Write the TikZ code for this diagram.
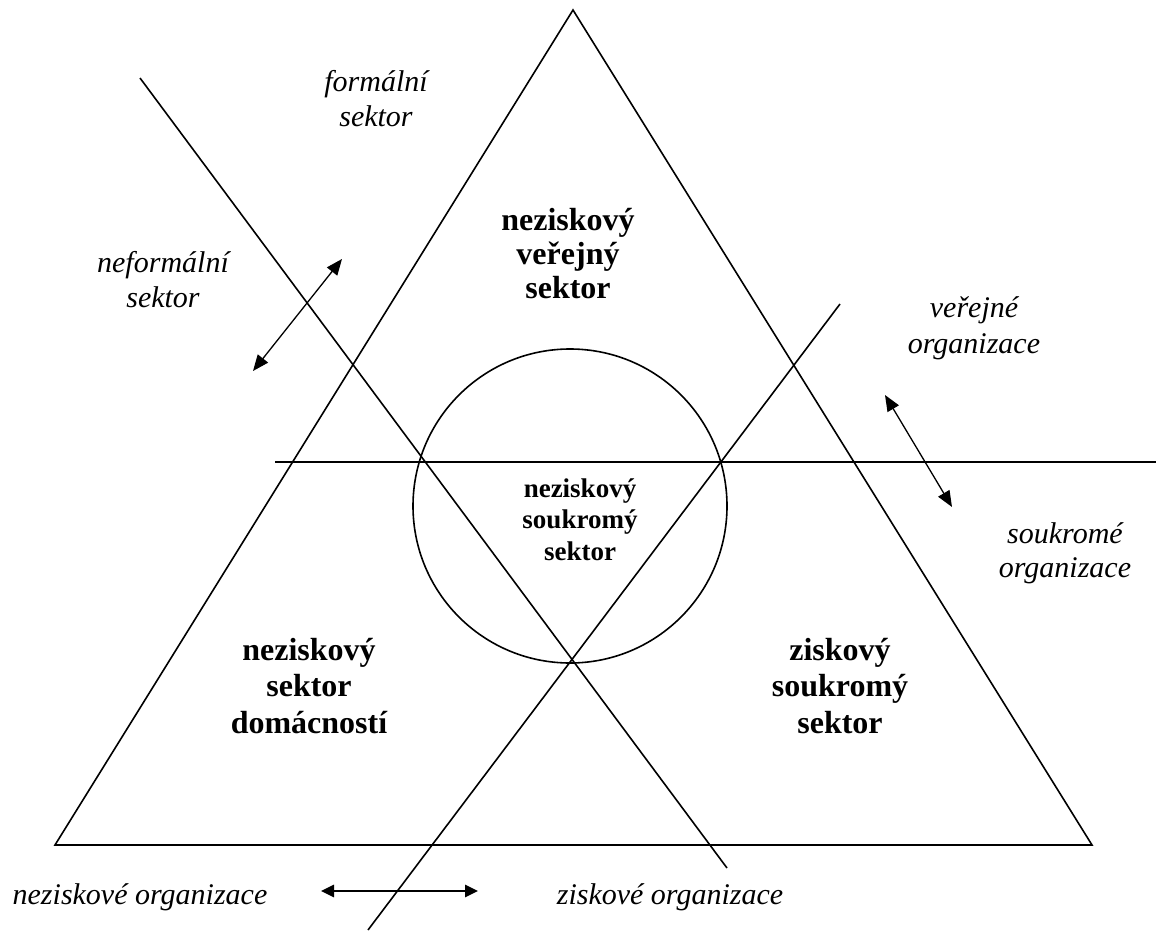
\documentclass[tikz,border=0pt]{standalone}
\usepackage{fontspec}
\setmainfont{Liberation Serif}
\usetikzlibrary{arrows.meta}
\newcommand{\labelstack}[1]{\begin{tabular}[t]{@{}c@{}}#1\end{tabular}}
\begin{document}
\begin{tikzpicture}[x=1pt,y=-1pt,
  frame/.style={line width=1.6pt,line join=miter},
  thinarrow/.style={line width=1.3pt,{Triangle[length=16pt,width=13pt]}-{Triangle[length=16pt,width=13pt]}},
  thickarrow/.style={line width=2.6pt,{Triangle[length=13pt,width=12pt]}-{Triangle[length=13pt,width=12pt]}},
  itlabel/.style={font=\fontsize{30}{35}\selectfont\itshape,inner sep=0pt,anchor=base},
  bflabel/.style={font=\fontsize{32}{36.5}\selectfont\bfseries,inner sep=0pt,anchor=base},
]
\useasboundingbox (0,0) rectangle (1156,931);
% geometry
\coordinate (apex) at (573,10);
\coordinate (bl) at (55,845);
\coordinate (br) at (1092,845);
\coordinate (cc) at (570,506);
\coordinate (l1s) at (140,78);
\coordinate (l1e) at (727,868);
\coordinate (l2s) at (840,304);
\coordinate (l2e) at (368,930);
\coordinate (hs) at (275,462);
\coordinate (he) at (1156,462);
\coordinate (a1s) at (342,259);
\coordinate (a1e) at (253,371);
\coordinate (a2s) at (885,395);
\coordinate (a2e) at (952,507);
\coordinate (a3s) at (321,891);
\coordinate (a3e) at (478,891);

\draw[frame] (apex) -- (bl) -- (br) -- cycle;
\draw[frame] (cc) circle[radius=157];
\draw[frame] (l1s) -- (l1e);
\draw[frame] (l2s) -- (l2e);
\draw[frame] (hs) -- (he);

\draw[thinarrow] (a1s) -- (a1e);
\draw[thinarrow] (a2s) -- (a2e);
\draw[thickarrow] (a3s) -- (a3e);

% italic labels
\node[itlabel] (formal) at (376,92) {\labelstack{formální\\sektor}};
\node[itlabel] (informal) at (163,272) {\labelstack{neformální\\sektor}};
\node[itlabel,font=\fontsize{30}{36}\selectfont\itshape] (public) at (974,317) {\labelstack{veřejné\\organizace}};
\node[itlabel,font=\fontsize{30}{34.5}\selectfont\itshape] (private) at (1065,543) {\labelstack{soukromé\\organizace}};
\node[itlabel] (nonprofit) at (140,904) {neziskové organizace};
\node[itlabel] (profit) at (670,904) {ziskové organizace};

% bold labels
\node[bflabel,font=\fontsize{32}{34}\selectfont\bfseries] (top) at (568,230) {\labelstack{neziskový\\veřejný\\sektor}};
\node[bflabel] (left) at (309,660) {\labelstack{neziskový\\sektor\\domácností}};
\node[bflabel] (right) at (840,660) {\labelstack{ziskový\\soukromý\\sektor}};
\node[bflabel,font=\fontsize{27}{31.5}\selectfont\bfseries] (centre) at (580,497) {\labelstack{neziskový\\soukromý\\sektor}};
\end{tikzpicture}
\end{document}
